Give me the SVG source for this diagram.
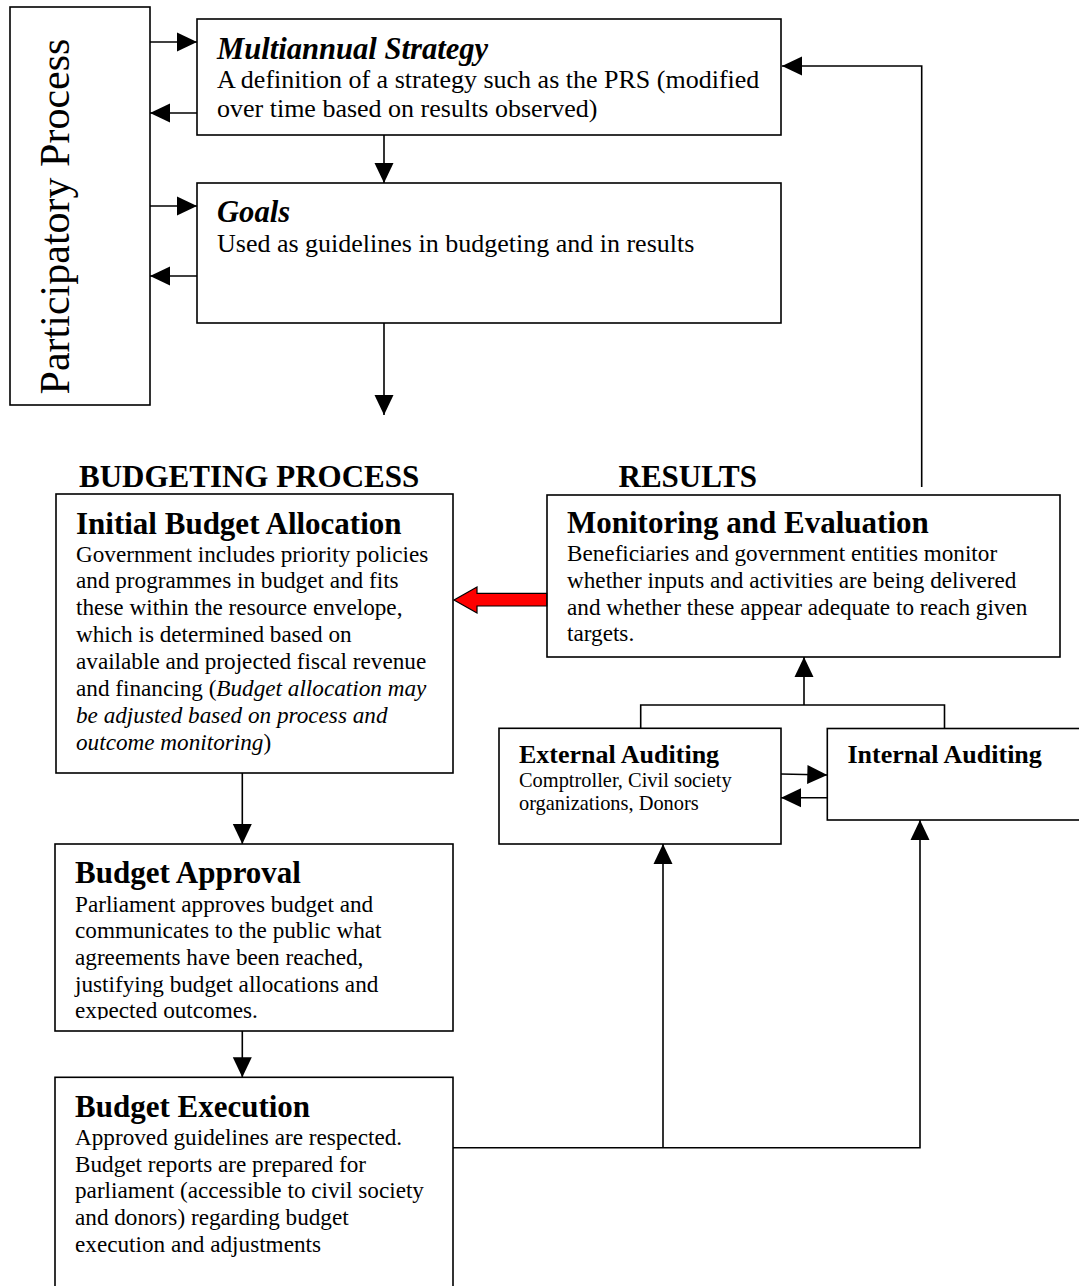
<svg xmlns="http://www.w3.org/2000/svg" width="1079" height="1286" viewBox="0 0 1079 1286">
<style>
.box{fill:#fff;stroke:#000;stroke-width:1.6}
.ln{fill:none;stroke:#000;stroke-width:1.6}
.t{font-family:"Liberation Serif","Times New Roman",serif;fill:#000}
.title{font-size:31px;font-weight:bold}
.ttl2{font-size:30.6px;font-weight:bold;font-style:italic}
.body{font-size:23.2px}
.body26{font-size:26px}
.aud{font-size:26px;font-weight:bold}
.audb{font-size:20.4px}
.it{font-style:italic}
</style>
<defs>
<marker id="ah" markerUnits="userSpaceOnUse" markerWidth="20" markerHeight="20" refX="20" refY="10" orient="auto">
<path d="M0,0.5 L20,10 L0,19.5 z" fill="#000"/>
</marker>
<clipPath id="clipA"><rect x="55" y="844" width="398" height="175.5"/></clipPath>
</defs>
<rect width="1079" height="1286" fill="#fff"/>

<g id="participatory">
<rect class="box" x="10" y="7" width="140" height="398"/>
<text class="t" font-size="42" text-anchor="middle" transform="translate(69,216.5) rotate(-90)">Participatory Process</text>
</g>

<g id="strategy">
<rect class="box" x="197" y="19" width="584" height="116"/>
<text class="t ttl2" x="217" y="58.7">Multiannual Strategy</text>
<text class="t body26" x="217" y="88.3">A definition of a strategy such as the PRS (modified</text>
<text class="t body26" x="217" y="116.7">over time based on results observed)</text>
</g>

<g id="goals">
<rect class="box" x="197" y="183" width="584" height="140"/>
<text class="t ttl2" x="217" y="221.7">Goals</text>
<text class="t body26" x="217" y="252.3">Used as guidelines in budgeting and in results</text>
</g>

<g id="headers">
<text class="t title" x="79" y="487">BUDGETING PROCESS</text>
<text class="t title" x="618.5" y="487">RESULTS</text>
</g>

<g id="initial">
<rect class="box" x="56" y="494" width="397" height="279"/>
<text class="t title" x="76" y="534">Initial Budget Allocation</text>
<text class="t body" x="76" y="561.5">Government includes priority policies</text>
<text class="t body" x="76" y="588.4">and programmes in budget and fits</text>
<text class="t body" x="76" y="615.3">these within the resource envelope,</text>
<text class="t body" x="76" y="642.2">which is determined based on</text>
<text class="t body" x="76" y="669.1">available and projected fiscal revenue</text>
<text class="t body" x="76" y="696">and financing (<tspan class="it">Budget allocation may</tspan></text>
<text class="t body it" x="76" y="722.9">be adjusted based on process and</text>
<text class="t body" x="76" y="749.8"><tspan class="it">outcome monitoring</tspan>)</text>
</g>

<g id="monitoring">
<rect class="box" x="547" y="495" width="513" height="162"/>
<text class="t title" x="567" y="533">Monitoring and Evaluation</text>
<text class="t body" x="567" y="561">Beneficiaries and government entities monitor</text>
<text class="t body" x="567" y="587.8">whether inputs and activities are being delivered</text>
<text class="t body" x="567" y="614.5">and whether these appear adequate to reach given</text>
<text class="t body" x="567" y="641.3">targets.</text>
</g>

<g id="external">
<rect class="box" x="499" y="728.3" width="282" height="115.7"/>
<text class="t aud" x="519" y="762.7">External Auditing</text>
<text class="t audb" x="519" y="786.7">Comptroller, Civil society</text>
<text class="t audb" x="519" y="810">organizations, Donors</text>
</g>

<g id="internal">
<rect class="box" x="827.3" y="728.5" width="260" height="91.5"/>
<text class="t aud" x="847.5" y="762.7">Internal Auditing</text>
</g>

<g id="approval">
<rect class="box" x="55" y="844" width="398" height="187"/>
<text class="t title" x="75" y="883.3">Budget Approval</text>
<text class="t body" x="75" y="911.7">Parliament approves budget and</text>
<text class="t body" x="75" y="938.3">communicates to the public what</text>
<text class="t body" x="75" y="965">agreements have been reached,</text>
<text class="t body" x="75" y="991.7">justifying budget allocations and</text>
<text class="t body" x="75" y="1018.3" clip-path="url(#clipA)">expected outcomes.</text>
</g>

<g id="execution">
<rect class="box" x="55" y="1077.3" width="398" height="230"/>
<text class="t title" x="75" y="1116.7">Budget Execution</text>
<text class="t body" x="75" y="1145">Approved guidelines are respected.</text>
<text class="t body" x="75" y="1171.7">Budget reports are prepared for</text>
<text class="t body" x="75" y="1198.3">parliament (accessible to civil society</text>
<text class="t body" x="75" y="1225">and donors) regarding budget</text>
<text class="t body" x="75" y="1251.7">execution and adjustments</text>
</g>

<g id="connectors">
<path class="ln" d="M150,42 H197" marker-end="url(#ah)"/>
<path class="ln" d="M197,113 H150" marker-end="url(#ah)"/>
<path class="ln" d="M150,206 H197" marker-end="url(#ah)"/>
<path class="ln" d="M197,276 H150" marker-end="url(#ah)"/>
<path class="ln" d="M384,135 V183" marker-end="url(#ah)"/>
<path class="ln" d="M384,323 V415" marker-end="url(#ah)"/>
<path class="ln" d="M921.7,487 V66 H782" marker-end="url(#ah)"/>
<path class="ln" d="M242.3,773 V844" marker-end="url(#ah)"/>
<path class="ln" d="M242.3,1031 V1077.3" marker-end="url(#ah)"/>
<path class="ln" d="M453,1147.7 H920 V820" marker-end="url(#ah)"/>
<path class="ln" d="M663,1147.7 V844" marker-end="url(#ah)"/>
<path class="ln" d="M640.7,728.3 V705 H944.5 V728.5"/>
<path class="ln" d="M804,705 V657" marker-end="url(#ah)"/>
<path class="ln" d="M781,774 L827.3,775" marker-end="url(#ah)"/>
<path class="ln" d="M827.3,797.7 H781" marker-end="url(#ah)"/>
<polygon points="546.7,593.3 477,593.3 477,587 454,600 477,613 477,606 546.7,606" fill="#f00" stroke="#000" stroke-width="1.2"/>
</g>
</svg>
